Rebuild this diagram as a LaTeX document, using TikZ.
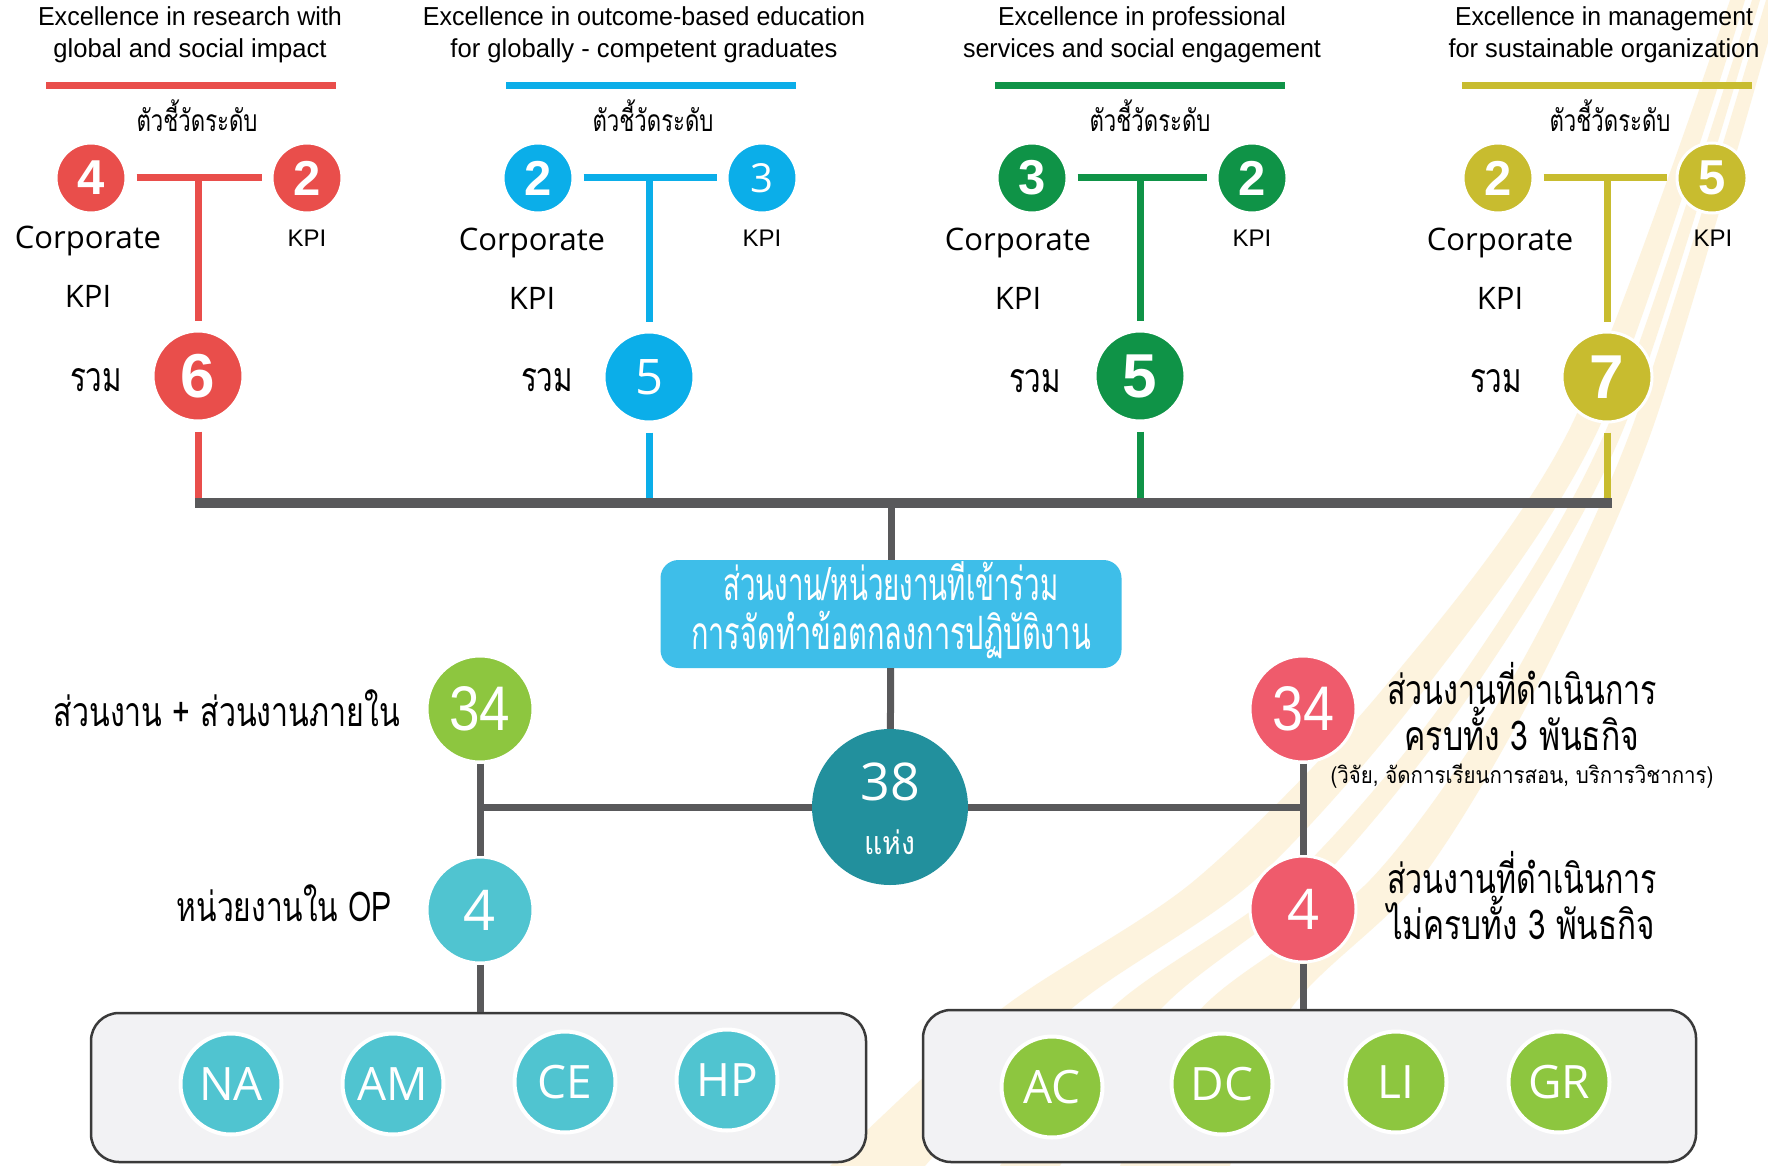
\documentclass[tikz,border=0pt]{standalone}
\usepackage{fontspec}
\usepackage{graphicx}
\setmainfont{Open Sans}
\newfontfamily\hel{Liberation Sans}
\newfontfamily\thai[Script=Thai]{Loma}
\newcommand\fsz[2]{\fontsize{#1}{#2}\selectfont}
\newcommand\fitw[2]{\resizebox{#1}{\height}{#2}}
\definecolor{cred}{HTML}{E94E4B}
\definecolor{cblue}{HTML}{0BAEE9}
\definecolor{cgreen}{HTML}{0F9347}
\definecolor{cyellow}{HTML}{C8BC2F}
\definecolor{cgray}{HTML}{59595B}
\definecolor{cbox}{HTML}{3EBEE9}
\definecolor{cmain}{HTML}{22909D}
\definecolor{clime}{HTML}{8DC63F}
\definecolor{cteal}{HTML}{50C4D0}
\definecolor{cpink}{HTML}{EF5B6C}
\definecolor{cstripe}{HTML}{FDF3DE}
\definecolor{cpanel}{HTML}{F2F2F4}
\definecolor{cpanelline}{HTML}{3A3A3A}
\tikzset{
  topnum/.style={circle, minimum size=70pt, inner sep=0pt, draw=white, line width=3pt, text=white, font=\hel\bfseries\fsz{49}{49}},
  sumnum/.style={circle, minimum size=90pt, inner sep=0pt, draw=white, line width=3pt, text=white, font=\hel\bfseries\fsz{62}{62}},
  midnum/.style={circle, minimum size=106pt, inner sep=0pt, draw=white, line width=3pt, text=white},
  unit/.style={circle, minimum size=101pt, inner sep=0pt, draw=white, line width=4pt, text=white, font=\fsz{46}{46}},
  ttl/.style={align=center, inner sep=0pt, font=\hel\fsz{26}{32}},
  lbl/.style={inner sep=0pt, font=\fsz{31}{31}},
  kpi/.style={inner sep=0pt, font=\hel\fsz{24}{24}},
  th/.style={inner sep=0pt, font=\thai\fsz{41}{41}},
  thsmall/.style={inner sep=0pt, font=\thai\fsz{30}{30}},
  colline/.style={line width=7pt},
  gline/.style={line width=7pt, draw=cgray},
  panel/.style={rectangle, rounded corners=28pt, draw=cpanelline, line width=2.5pt, fill=cpanel, inner sep=0pt},
}
\begin{document}
\begin{tikzpicture}[x=1pt, y=-1pt]
\useasboundingbox (0,0) rectangle (1768,1166);
\fill[white] (0,0) rectangle (1768,1166);
% background stripes
\begin{scope}
\clip (0,0) rectangle (1768,1166);
\fill[cstripe] plot[smooth] coordinates {(830,1166) (1000,1010) (1195,880) (1382,690) (1569,430) (1730,0)}
  -- plot[smooth] coordinates {(1745,0) (1598,430) (1424,690) (1255,880) (1070,1010) (925,1166)} -- cycle;
\fill[cstripe] plot[smooth] coordinates {(1000,1166) (1110,1010) (1290,880) (1452,690) (1606,430) (1752,0)}
  -- plot[smooth] coordinates {(1760,0) (1623,430) (1473,690) (1320,880) (1160,1010) (1060,1166)} -- cycle;
\fill[cstripe] plot[smooth] coordinates {(1120,1166) (1200,1010) (1370,880) (1506,690) (1631,430) (1766,0)}
  -- plot[smooth] coordinates {(1780,0) (1652,430) (1535,690) (1420,880) (1290,1010) (1230,1166)} -- cycle;
\end{scope}

\coordinate (bl) at (195,503);
\coordinate (br) at (1612,503);

% ---------- column 1 ----------
\node[ttl] (t1) at (190,35) {\fitw{304pt}{Excellence in research with}\\\fitw{273pt}{global and social impact}};
\coordinate (u1a) at (46,86); \coordinate (u1b) at (336,86);
\draw[colline, cred] (u1a) -- (u1b);
\node[thsmall] (k1) at (197,116) {\fitw{121pt}{ตัวชี้วัดระดับ}};
\node[topnum, fill=cred] (a1) at (91,178) {4};
\node[topnum, fill=cred] (b1) at (307,178) {2};
\node[sumnum, fill=cred] (s1) at (198,376) {6};
\coordinate (j1) at (s1 |- a1);
\draw[colline, cred, shorten <=9pt, shorten >=9pt] (a1) -- (b1);
\draw[colline, cred, shorten >=9pt] (j1) -- (s1);
\draw[colline, cred, shorten <=9pt] (s1) -- (s1 |- bl);
\node[lbl] (c1) at (88,241) {Corporate};
\node[lbl] (p1) at (88,296) {KPI};
\node[kpi] (q1) at (307,238) {KPI};
\node[th] (r1) at (96,380) {\fitw{52pt}{รวม}};

% ---------- column 2 ----------
\node[ttl] (t2) at (644,35) {\fitw{442pt}{Excellence in outcome-based education}\\\fitw{387pt}{for globally - competent graduates}};
\coordinate (u2a) at (506,86); \coordinate (u2b) at (796,86);
\draw[colline, cblue] (u2a) -- (u2b);
\node[thsmall] (k2) at (653,116) {\fitw{121pt}{ตัวชี้วัดระดับ}};
\node[topnum, fill=cblue] (a2) at (538,178) {2};
\node[topnum, fill=cblue, font=\fsz{40}{40}] (b2) at (762,178) {3};
\node[sumnum, fill=cblue, font=\fsz{49}{49}] (s2) at (649,377) {5};
\coordinate (j2) at (s2 |- a2);
\draw[colline, cblue, shorten <=9pt, shorten >=9pt] (a2) -- (b2);
\draw[colline, cblue, shorten >=9pt] (j2) -- (s2);
\draw[colline, cblue, shorten <=9pt] (s2) -- (s2 |- bl);
\node[lbl] (c2) at (532,243) {Corporate};
\node[lbl] (p2) at (532,298) {KPI};
\node[kpi] (q2) at (762,238) {KPI};
\node[th] (r2) at (547,380) {\fitw{52pt}{รวม}};

% ---------- column 3 ----------
\node[ttl] (t3) at (1142,35) {\fitw{288pt}{Excellence in professional}\\\fitw{358pt}{services and social engagement}};
\coordinate (u3a) at (995,86); \coordinate (u3b) at (1285,86);
\draw[colline, cgreen] (u3a) -- (u3b);
\node[thsmall] (k3) at (1150,116) {\fitw{121pt}{ตัวชี้วัดระดับ}};
\node[topnum, fill=cgreen] (a3) at (1032,178) {3};
\node[topnum, fill=cgreen] (b3) at (1252,178) {2};
\node[sumnum, fill=cgreen] (s3) at (1140,376) {5};
\coordinate (j3) at (s3 |- a3);
\draw[colline, cgreen, shorten <=9pt, shorten >=9pt] (a3) -- (b3);
\draw[colline, cgreen, shorten >=9pt] (j3) -- (s3);
\draw[colline, cgreen, shorten <=9pt] (s3) -- (s3 |- bl);
\node[lbl] (c3) at (1018,243) {Corporate};
\node[lbl] (p3) at (1018,298) {KPI};
\node[kpi] (q3) at (1252,238) {KPI};
\node[th] (r3) at (1035,381) {\fitw{52pt}{รวม}};

% ---------- column 4 ----------
\node[ttl] (t4) at (1604,35) {\fitw{298pt}{Excellence in management}\\\fitw{311pt}{for sustainable organization}};
\coordinate (u4a) at (1462,86); \coordinate (u4b) at (1752,86);
\draw[colline, cyellow] (u4a) -- (u4b);
\node[thsmall] (k4) at (1610,116) {\fitw{121pt}{ตัวชี้วัดระดับ}};
\node[topnum, fill=cyellow] (a4) at (1498,178) {2};
\node[topnum, fill=cyellow] (b4) at (1712,178) {5};
\node[sumnum, fill=cyellow] (s4) at (1607,377) {7};
\coordinate (j4) at (s4 |- a4);
\draw[colline, cyellow, shorten <=9pt, shorten >=9pt] (a4) -- (b4);
\draw[colline, cyellow, shorten >=9pt] (j4) -- (s4);
\draw[colline, cyellow, shorten <=9pt] (s4) -- (s4 |- bl);
\node[lbl] (c4) at (1500,243) {Corporate};
\node[lbl] (p4) at (1500,298) {KPI};
\node[kpi] (q4) at (1713,238) {KPI};
\node[th] (r4l) at (1496,381) {\fitw{52pt}{รวม}};

% ---------- gray bar and centre ----------
\draw[line width=10pt, cgray] (bl) -- (br);
\coordinate (bt) at (891,503);
\node[rectangle, rounded corners=18pt, fill=cbox, minimum width=461pt, minimum height=108pt, inner sep=0pt] (bx) at (891,614) {};
\node[inner sep=0pt, text=white, align=center, font=\thai\fsz{46}{49}] (bxt) at (891,606)
  {\fitw{335pt}{ส่วนงาน/หน่วยงานที่เข้าร่วม}\\\fitw{400pt}{การจัดทำข้อตกลงการปฏิบัติงาน}};
\draw[gline] (bt) -- (bx);
\node[circle, fill=cmain, minimum size=156pt, inner sep=0pt] (n38) at (890,807) {};
\draw[gline] (bx) -- (n38);
\node[inner sep=0pt, text=white, font=\fsz{52}{52}] (t38) at (890,782) {38};
\node[inner sep=0pt, text=white, font=\thai\fsz{32}{32}] (h38) at (890,842) {\fitw{51pt}{แห่ง}};

% left branch
\node[midnum, fill=clime, font=\hel\fsz{63}{63}] (g34) at (480,709) {\fitw{61pt}{34}};
\node[midnum, fill=cteal, font=\fsz{56}{56}] (op4) at (480,910) {4};
% right branch
\node[midnum, fill=cpink, font=\hel\fsz{63}{63}] (r34) at (1303,709) {\fitw{62pt}{34}};
\node[midnum, fill=cpink, font=\fsz{56}{56}] (rr4) at (1303,909) {4};

% panels
\node[panel, minimum width=775pt, minimum height=149pt] (lb) at (478.5,1087.5) {};
\node[panel, minimum width=773pt, minimum height=152pt] (rb) at (1309.5,1086) {};

\draw[gline] (n38) -- (n38 -| g34);
\draw[gline] (n38) -- (n38 -| r34);
\draw[gline] (g34) -- (op4);
\draw[gline] (r34) -- (rr4);
\draw[gline] (op4) -- (op4 |- lb.north);
\draw[gline] (rr4) -- (rr4 |- rb.north);

% labels
\node[th, anchor=east] (z1) at (400,708) {\fitw{346pt}{ส่วนงาน + ส่วนงานภายใน}};
\node[th, anchor=east] (z2) at (392,903) {\fitw{215pt}{หน่วยงานใน OP}};
\node[th] (x1) at (1522,684) {\fitw{270pt}{ส่วนงานที่ดำเนินการ}};
\node[th] (x2) at (1522,729) {\fitw{235pt}{ครบทั้ง 3 พันธกิจ}};
\node[inner sep=0pt, font=\thai\fsz{23}{23}] (x3) at (1522,776) {\fitw{383pt}{(วิจัย, จัดการเรียนการสอน, บริการวิชาการ)}};
\node[th] (y1) at (1522,873) {\fitw{270pt}{ส่วนงานที่ดำเนินการ}};
\node[th] (y2) at (1521,918) {\fitw{268pt}{ไม่ครบทั้ง 3 พันธกิจ}};

% units
\node[unit, fill=cteal] (na) at (231,1084) {NA};
\node[unit, fill=cteal] (am) at (393,1084) {AM};
\node[unit, fill=cteal] (ce) at (565,1082) {CE};
\node[unit, fill=cteal] (hp) at (727,1080) {HP};
\node[unit, fill=clime] (ac) at (1052,1087) {AC};
\node[unit, fill=clime] (dc) at (1222,1084) {DC};
\node[unit, fill=clime] (li) at (1396,1082) {LI};
\node[unit, fill=clime] (gr) at (1559,1082) {GR};
\end{tikzpicture}
\end{document}
